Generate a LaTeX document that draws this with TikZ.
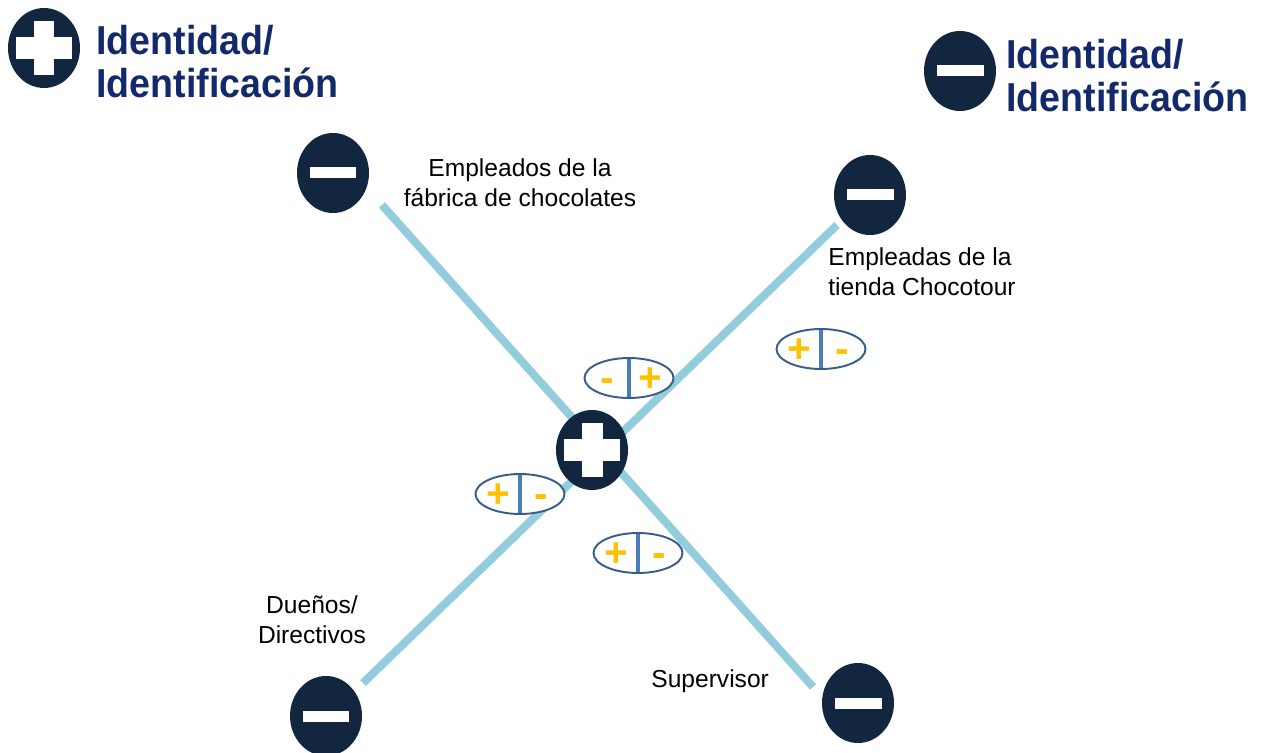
\documentclass[tikz,border=0pt]{standalone}
\usepackage{fontspec}
\setmainfont{Liberation Sans}
\newfontfamily\titlefont[FakeStretch=0.93]{Liberation Sans}
\usetikzlibrary{shapes.geometric,positioning}
\definecolor{navy}{HTML}{13263F}
\definecolor{titleblue}{HTML}{13296B}
\definecolor{linecyan}{HTML}{93CDDD}
\definecolor{ovalblue}{HTML}{385D8A}
\definecolor{barblue}{HTML}{4A7EBB}
\definecolor{gold}{HTML}{FFC000}
\newcommand\pmsigns[2]{\raisebox{-0.33em}[0pt][0pt]{\makebox[0pt]{\makebox[0.86cm]{#1}\makebox[0.86cm]{#2}}}}

\begin{document}
\begin{tikzpicture}
[x=0.02cm, y=-0.02cm, font=\fontsize{14}{17}\selectfont]
\tikzstyle{circ}=[ellipse, fill=navy, inner sep=0mm, minimum width=1.44cm, minimum height=1.6cm]
\tikzstyle{minuscirc}=[circ, path picture={\fill[white] ([xshift=-0.47cm,yshift=-0.11cm]path picture bounding box.center) rectangle ([xshift=0.47cm,yshift=0.11cm]path picture bounding box.center);}]
\tikzstyle{pluscirc}=[circ, path picture={
  \fill[white] ([xshift=-0.56cm,yshift=-0.22cm]path picture bounding box.center) rectangle ([xshift=0.56cm,yshift=0.22cm]path picture bounding box.center);
  \fill[white] ([xshift=-0.21cm,yshift=-0.54cm]path picture bounding box.center) rectangle ([xshift=0.21cm,yshift=0.54cm]path picture bounding box.center);}]
\tikzstyle{pm}=[ellipse, draw=ovalblue, line width=1.1pt, fill=white, inner sep=0mm, minimum width=1.78cm, minimum height=0.8cm, text=gold, font=\fontsize{23}{23}\selectfont\bfseries,
  path picture={\draw[barblue, line width=2.4pt] (path picture bounding box.north) -- (path picture bounding box.south);}]
\tikzstyle{title}=[inner sep=0mm, align=left, text=titleblue, font=\titlefont\fontsize{23}{24.4}\selectfont\bfseries]
\tikzstyle{lbl}=[inner sep=0mm]
\tikzstyle{axis}=[linecyan, line width=4.6pt]

\useasboundingbox (0,0) rectangle (1261,753);

\coordinate (A1) at (382,205);
\coordinate (A2) at (813,687);
\coordinate (B1) at (363,683);
\coordinate (B2) at (837,225);
\draw[axis] (A1)--(A2);
\draw[axis] (B1)--(B2);

\node[pluscirc]  (P0) at (44,48) {};
\node[title, anchor=north west] (T0) at (96,25) {Identidad/\\Identificaci\'on};
\node[minuscirc] (M0) at (960,71) {};
\node[title, anchor=north west] (T1) at (1006,39) {Identidad/\\Identificaci\'on};

\node[minuscirc] (Fab) at (333,173) {};
\node[minuscirc] (Tie) at (870,195) {};
\node[minuscirc] (Due) at (326,716) {};
\node[minuscirc] (Sup) at (858,703) {};
\node[pluscirc]  (C)   at (592,450) {};

\node[lbl, align=center, anchor=north] (LFab) at (520,158) {Empleados de la\\f\'abrica de chocolates};
\node[lbl, align=left, anchor=north west] (LTie) at (828,247) {Empleadas de la\\tienda Chocotour};
\node[lbl, align=center, anchor=north] (LDue) at (312,595) {Due\~nos/\\Directivos};
\node[lbl, anchor=north west] (LSup) at (651,669) {Supervisor};

\node[pm] (O1) at (629,378) {\pmsigns{-}{+}};
\node[pm] (O2) at (821,349) {\pmsigns{+}{-}};
\node[pm] (O3) at (520,494) {\pmsigns{+}{-}};
\node[pm] (O4) at (638,553) {\pmsigns{+}{-}};

\end{tikzpicture}
\end{document}
